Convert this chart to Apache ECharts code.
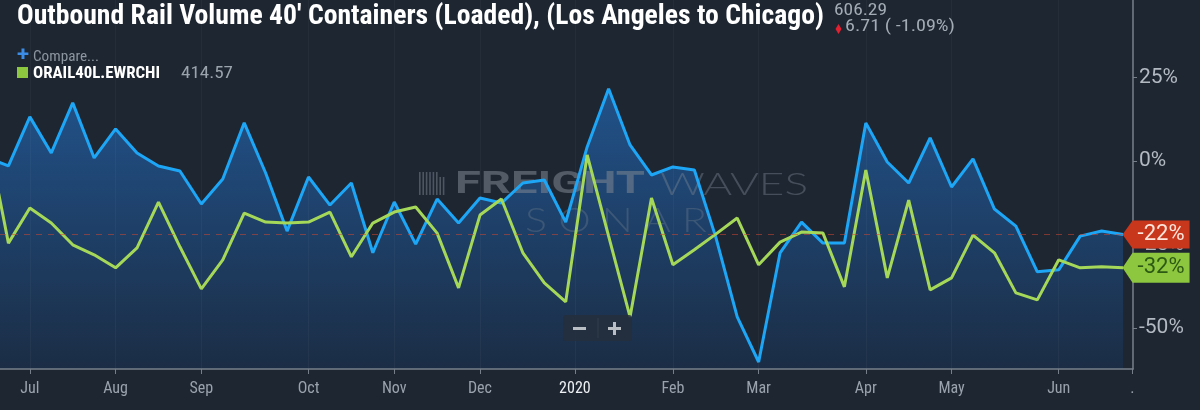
<!DOCTYPE html>
<html>
<head>
<meta charset="utf-8">
<script src="https://cdn.jsdelivr.net/npm/echarts@6/dist/echarts.min.js"></script>
<style>
html,body{margin:0;padding:0;background:#1e2632;}
#c{width:1200px;height:410px;}
</style>
</head>
<body>
<div id="c"></div>
<script>
// ---------------- DATA ----------------
const weekDates = [
  '2019-06-23','2019-06-30','2019-07-07','2019-07-14','2019-07-21','2019-07-28',
  '2019-08-04','2019-08-11','2019-08-18','2019-08-25','2019-09-01','2019-09-08',
  '2019-09-15','2019-09-22','2019-09-29','2019-10-06','2019-10-13','2019-10-20',
  '2019-10-27','2019-11-03','2019-11-10','2019-11-17','2019-11-24','2019-12-01',
  '2019-12-08','2019-12-15','2019-12-22','2019-12-29','2020-01-05','2020-01-12',
  '2020-01-19','2020-01-26','2020-02-02','2020-02-09','2020-02-16','2020-02-23',
  '2020-03-01','2020-03-08','2020-03-15','2020-03-22','2020-03-29','2020-04-05',
  '2020-04-12','2020-04-19','2020-04-26','2020-05-03','2020-05-10','2020-05-17',
  '2020-05-24','2020-05-31','2020-06-07','2020-06-14','2020-06-21','2020-06-28'
];
// Outbound Rail Volume 40' Containers (Loaded), LA -> Chicago (% change)
const mainValues = [
  1.1, -1.5, 13.2, 2.4, 17.4, 0.9, 9.6, 2.4, -1.5, -3.0, -12.9, -5.4,
  11.4, -3.6, -21.0, -4.8, -13.2, -6.6, -27.5, -12.3, -24.9, -11.4, -18.6, -11.1,
  -12.6, -6.6, -5.7, -18.3, 4.2, 21.6, 4.8, -4.2, -1.8, -2.7, -22.8, -46.7,
  -60.2, -27.5, -18.3, -24.6, -24.6, 11.4, -0.3, -6.6, 6.9, -7.8, 0.6, -14.4,
  -19.5, -33.2, -32.6, -22.5, -21.0, -22
];
// ORAIL40L.EWRCHI (% change)
const compareValues = [
  8, -24.6, -14.1, -18.6, -25.1, -28.1, -32.0, -26.0, -12.3, -25.7, -38.3, -29.6,
  -15.6, -18.3, -18.6, -18.3, -15.3, -28.7, -18.6, -15.3, -13.8, -21.6, -38.0, -16.2,
  -11.4, -27.5, -36.5, -42.2, 1.8, -22.5, -46.7, -11.1, -31.1, -26.6, -21.9, -17.1,
  -31.1, -24.3, -21.3, -21.6, -37.7, -2.7, -35.0, -11.7, -38.6, -35.0, -22.2, -27.5,
  -39.5, -41.6, -29.6, -32.0, -31.7, -32
];
const tickDates = ['2019-07-07','2019-08-04','2019-09-01','2019-10-06','2019-11-03','2019-12-01',
  '2020-01-01','2020-02-02','2020-03-01','2020-04-05','2020-05-03','2020-06-07','2020-07-01'];
const tickLabels = ['Jul','Aug','Sep','Oct','Nov','Dec','2020','Feb','Mar','Apr','May','Jun','.'];
const yTickValues = [-50, -25, 0, 25];

const titleText = "Outbound Rail Volume 40' Containers (Loaded), (Los Angeles to Chicago)";
const mainLast = '606.29';
const mainChange = '6.71 ( -1.09%)';
const compareName = 'ORAIL40L.EWRCHI';
const compareLast = '414.57';

// ---------------- HELPERS ----------------
const toTs = s => Date.parse(s + 'T00:00:00Z');
const weekTs = weekDates.map(toTs);
const tickTs = tickDates.map(toTs);
const mainData = weekTs.map((t, i) => [t, mainValues[i]]);
const compData = weekTs.map((t, i) => [t, compareValues[i]]);
const lastTs = weekTs[weekTs.length - 1];
const mainLastVal = mainValues[mainValues.length - 1];
const compLastVal = compareValues[compareValues.length - 1];

const COND = "'Roboto Condensed','Liberation Sans Narrow',Roboto,sans-serif";
const ROB = "Roboto,'Noto Sans',sans-serif";
const mctx = document.createElement('canvas').getContext('2d');
function measure(text, font) { mctx.font = font; return mctx.measureText(text).width; }
function T(text, x, y, size, weight, family, color, width, z) {
  const font = weight + ' ' + size + 'px ' + family;
  const sx = width ? width / measure(text, font) : 1;
  return { type: 'text', x: x, y: y, scaleX: sx, z: z == null ? 10 : z, silent: true,
    style: { text: text, font: font, fill: color, align: 'left', verticalAlign: 'middle' } };
}

const graphics = [
  T(titleText, 17, 17, 28, 'bold', COND, '#ffffff', 807),
  T(mainLast, 834, 10.5, 17, 'normal', COND, '#a3abb4', 53),
  { type: 'polygon', silent: true, z: 10, shape: { points: [[838.5, 24], [841.5, 29], [838.5, 34], [835.5, 29]] }, style: { fill: '#e3202f' } },
  T(mainChange, 845, 27, 17, 'normal', COND, '#a3abb4', 110),
  T('+', 17, 56, 20, 'bold', ROB, '#3a8ce6', 12),
  T('Compare...', 33, 57, 14, 'normal', COND, '#8c96a0', 66),
  { type: 'rect', silent: true, z: 10, shape: { x: 17, y: 67, width: 11, height: 11 }, style: { fill: '#8dc63f' } },
  T(compareName, 33, 73.5, 17, 'bold', COND, '#ffffff', 127),
  T(compareLast, 181, 73.5, 17, 'normal', COND, '#9ba3ac', 52),
  // watermark
  T('FREIGHT', 455, 185, 32, 'bold', ROB, 'rgba(125,134,145,0.55)', 190, 1.5),
  T('WAVES', 660, 185, 32, '300', "Lato,Roboto,sans-serif", 'rgba(125,134,145,0.42)', 148, 1.5),
  T('S O N A R', 525, 221, 33, '300', "Lato,Roboto,sans-serif", 'rgba(125,134,145,0.32)', 182, 1.5),
  // zoom control
  { type: 'rect', silent: true, z: 10, shape: { x: 563, y: 315, width: 69, height: 26, r: 3 }, style: { fill: 'rgba(36,46,60,0.85)' } },
  { type: 'line', silent: true, z: 11, shape: { x1: 598, y1: 318, x2: 598, y2: 338 }, style: { stroke: 'rgba(255,255,255,0.07)', lineWidth: 1 } },
  { type: 'rect', silent: true, z: 11, shape: { x: 573, y: 327, width: 13, height: 3 }, style: { fill: '#b9bec4' } },
  { type: 'rect', silent: true, z: 11, shape: { x: 608, y: 327, width: 13, height: 3 }, style: { fill: '#b9bec4' } },
  { type: 'rect', silent: true, z: 11, shape: { x: 613, y: 322, width: 3, height: 13 }, style: { fill: '#b9bec4' } }
];
for (let i = 0; i < 8; i++) {
  graphics.push({ type: 'rect', silent: true, z: 1.5,
    shape: { x: 419 + i * 3.4, y: 172 + (i > 5 ? 5 : 0), width: 1.6, height: 23 - (i > 5 ? 5 : 0) },
    style: { fill: 'rgba(125,134,145,0.5)' } });
}

const chart = echarts.init(document.getElementById('c'), null, { renderer: 'canvas', width: 1200, height: 410 });
const axisColor = '#77808a';
chart.setOption({
  backgroundColor: '#1e2632',
  animation: false,
  grid: { left: 0, right: 67, top: 0, bottom: 41, containLabel: false },
  xAxis: {
    type: 'value',
    min: Date.UTC(2019, 5, 27, 6),
    max: Date.UTC(2020, 6, 1, 6),
    z: 4,
    axisLine: { onZero: false, lineStyle: { color: axisColor, width: 1.5 } },
    axisTick: { show: true, customValues: tickTs, length: 5, lineStyle: { color: axisColor } },
    axisLabel: {
      customValues: tickTs,
      color: '#9aa3ad', fontSize: 16, fontFamily: COND, margin: 12,
      formatter: function (v) {
        const i = tickTs.indexOf(v);
        const s = i >= 0 ? tickLabels[i] : '';
        return s === '2020' ? '{y|' + s + '}' : s;
      },
      rich: { y: { color: '#eef1f4', fontSize: 16, fontFamily: COND } }
    },
    splitLine: { show: true, lineStyle: { color: 'rgba(255,255,255,0.035)', width: 1 } }
  },
  yAxis: {
    type: 'value',
    position: 'right',
    min: -62.3, max: 48.2,
    z: 4,
    axisLine: { show: true, onZero: false, lineStyle: { color: axisColor, width: 1.5 } },
    axisTick: { show: true, customValues: yTickValues, length: 4, lineStyle: { color: axisColor } },
    axisLabel: { customValues: yTickValues, formatter: '{value}%', color: '#b3b9c1', fontSize: 21, fontFamily: ROB, margin: 6 },
    splitLine: { show: false }
  },
  graphic: { elements: graphics },
  series: [
    {
      name: 'area', type: 'line', data: mainData, symbol: 'none', silent: true, z: 1,
      lineStyle: { width: 0 },
      areaStyle: {
        origin: 'start', opacity: 1,
        color: new echarts.graphic.LinearGradient(0, 0, 0, 1, [
          { offset: 0, color: '#21528a' }, { offset: 1, color: '#1b2d45' }
        ])
      }
    },
    {
      name: 'main', type: 'line', data: mainData, symbol: 'none', z: 3,
      lineStyle: { color: '#1ea6f6', width: 3 },
      markLine: {
        silent: true, symbol: 'none', label: { show: false },
        lineStyle: { color: 'rgba(205,70,50,0.55)', type: [6, 6], width: 1 },
        data: [{ yAxis: mainLastVal }]
      },
      markPoint: {
        silent: true, symbol: 'path://M0,14L10,0L67,0L67,28L10,28Z',
        symbolSize: [67, 28], symbolOffset: [33, 0], symbolKeepAspect: false,
        itemStyle: { color: '#c8371c' },
        label: { show: true, position: 'inside', offset: [5, 0], color: '#ffe6dc', fontSize: 22, fontFamily: ROB,
          formatter: p => Math.round(p.value) + '%' },
        data: [{ coord: [lastTs, mainLastVal], value: mainLastVal }]
      }
    },
    {
      name: 'compare', type: 'line', data: compData, symbol: 'none', z: 3,
      lineStyle: { color: '#a5d858', width: 3 },
      markPoint: {
        silent: true, symbol: 'path://M0,15L10,0L67,0L67,30L10,30Z',
        symbolSize: [67, 30], symbolOffset: [33, 0], symbolKeepAspect: false,
        itemStyle: { color: '#8dc63f' },
        label: { show: true, position: 'inside', offset: [5, 0], color: '#2c5a14', fontSize: 22, fontFamily: ROB,
          formatter: p => Math.round(p.value) + '%' },
        data: [{ coord: [lastTs, compLastVal], value: compLastVal }]
      }
    }
  ]
});
</script>
</body>
</html>
